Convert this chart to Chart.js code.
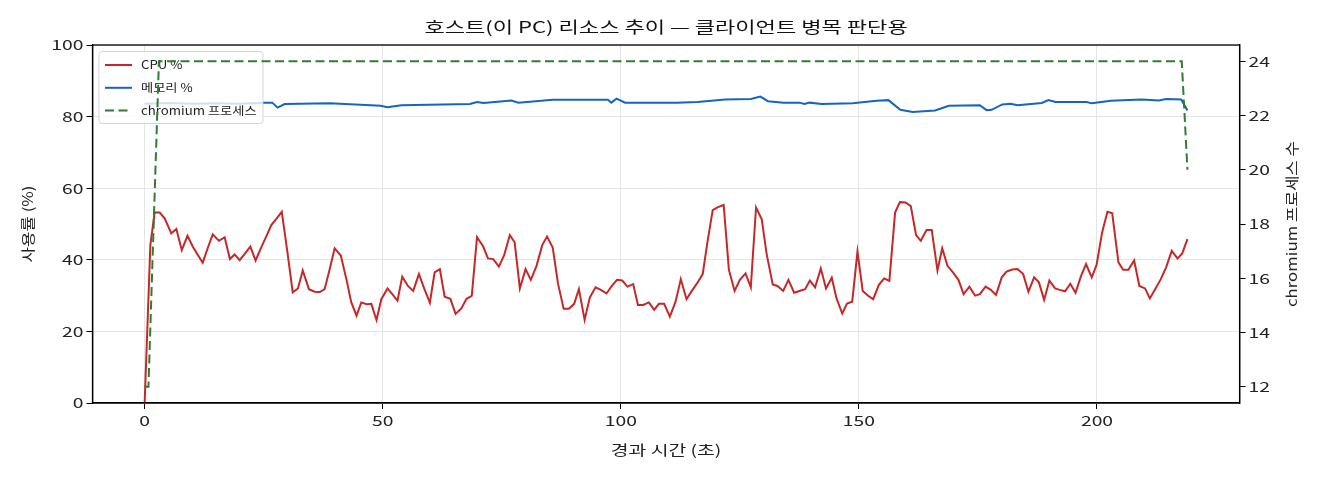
<!DOCTYPE html>
<html>
<head>
<meta charset="utf-8">
<script src="https://cdn.jsdelivr.net/npm/chart.js@4.4.1/dist/chart.umd.min.js"></script>
<style>
  html, body { margin: 0; padding: 0; background: #fff; }
  #wrap { width: 1320px; height: 480px; }
</style>
</head>
<body>
<div id="wrap"><canvas id="c" width="1320" height="480"></canvas></div>
<script>
// 시간축 눈금
const xTicks = [0, 50, 100, 150, 200];
const leftTicks = [0, 20, 40, 60, 80, 100];
const rightTicks = [12, 14, 16, 18, 20, 22, 24];

// CPU % (샘플 시각, 값)
const cpuT = [0, 1.2, 2.1, 3.15, 4.2, 5.6, 6.66, 7.8, 9.0, 10.1, 11.2, 12.2, 13.2, 14.3, 15.6, 16.8, 17.9, 18.9, 19.96, 21.1,
  22.2, 23.3, 24.4, 25.5, 26.6, 27.7, 28.8, 30.0, 31.1, 32.2, 33.2, 34.5, 35.7, 36.8, 37.8, 38.9, 39.9, 41.2, 42.4, 43.4,
  44.5, 45.5, 46.6, 47.6, 48.7, 49.7, 51.0, 52.0, 53.1, 54.1, 55.3, 56.4, 57.6, 58.7, 59.9, 60.9, 62.0, 63.0, 64.2, 65.3,
  66.5, 67.6, 68.7, 69.8, 71.1, 72.1, 73.2, 74.4, 75.5, 76.7, 77.7, 78.8, 80.0, 81.1, 82.3, 83.5, 84.5, 85.7, 86.8, 88.0,
  89.1, 90.2, 91.2, 92.4, 93.5, 94.7, 95.8, 97.0, 98.0, 99.2, 100.3, 101.4, 102.6, 103.6, 104.7, 105.9, 107.0, 108.0, 109.1, 110.3,
  111.5, 112.6, 113.8, 114.8, 116.0, 117.2, 118.2, 119.3, 120.4, 121.6, 122.7, 123.9, 125.0, 126.2, 127.3, 128.4, 129.6, 130.6, 131.9, 132.9,
  134.1, 135.2, 136.4, 137.5, 138.7, 139.7, 140.8, 142.0, 143.1, 144.3, 145.3, 146.5, 147.5, 148.6, 149.7, 150.8, 152.0, 153.0, 154.2, 155.3,
  156.4, 157.6, 158.6, 159.8, 160.9, 162.0, 163.0, 164.2, 165.3, 166.5, 167.5, 168.6, 169.8, 170.9, 172.0, 173.2, 174.4, 175.4, 176.6, 177.7,
  178.8, 180.0, 181.0, 182.2, 183.3, 184.5, 185.6, 186.8, 187.8, 188.9, 190.0, 191.2, 192.2, 193.3, 194.4, 195.5, 196.6, 197.7, 198.9, 199.9,
  201.1, 202.2, 203.2, 204.5, 205.5, 206.6, 207.8, 208.9, 210.1, 211.1, 212.3, 213.4, 214.5, 215.7, 216.9, 217.9, 219.0];
const cpuV = [0, 44.1, 53.2, 53.2, 51.6, 47.4, 48.6, 42.7, 46.7, 43.7, 41.3, 39.2, 43.1, 47.1, 45.3, 46.3, 40.2, 41.5, 39.9, 41.8,
  43.7, 39.8, 43.2, 46.4, 49.7, 51.5, 53.4, 42.0, 30.9, 32.0, 37.0, 31.8, 31.1, 31.0, 31.8, 37.6, 43.2, 41.2, 34.4, 28.1,
  24.4, 28.1, 27.6, 27.7, 23.2, 29.0, 32.0, 30.4, 28.6, 35.3, 32.7, 31.3, 36.0, 32.0, 28.0, 36.5, 37.4, 29.7, 29.1, 24.9,
  26.4, 29.1, 29.9, 46.3, 43.7, 40.4, 40.2, 38.1, 41.3, 46.9, 44.9, 32.0, 37.4, 34.4, 38.3, 44.1, 46.5, 43.4, 33.4, 26.3,
  26.3, 27.7, 31.8, 23.2, 29.5, 32.3, 31.6, 30.6, 32.5, 34.4, 34.2, 32.5, 33.2, 27.4, 27.4, 28.1, 26.0, 27.7, 27.7, 24.1,
  28.3, 34.6, 29.0, 31.1, 33.4, 36.0, 45.0, 53.9, 54.7, 55.3, 37.2, 31.3, 34.4, 36.2, 32.3, 54.6, 51.3, 41.8, 33.1, 32.7,
  31.3, 34.4, 30.8, 31.3, 31.8, 34.2, 32.3, 37.6, 32.0, 35.0, 29.2, 25.0, 27.8, 28.3, 42.3, 31.3, 29.9, 29.0, 33.0, 34.8,
  34.1, 53.2, 56.1, 56.0, 55.0, 46.9, 45.3, 48.3, 48.3, 37.0, 43.2, 38.3, 36.4, 34.4, 30.4, 32.5, 30.0, 30.4, 32.5, 31.6,
  30.2, 35.1, 36.7, 37.3, 37.4, 36.0, 31.1, 35.1, 33.7, 28.8, 34.2, 32.0, 31.6, 31.2, 33.3, 30.8, 35.3, 38.8, 35.1, 38.5,
  47.8, 53.4, 53.0, 39.3, 37.2, 37.2, 39.8, 32.7, 32.0, 29.2, 32.0, 34.6, 37.8, 42.5, 40.4, 41.8, 45.8];

// 메모리 %
const memT = [0, 5, 10, 15, 20, 25.0, 26.8, 27.9, 29.4, 38.9, 49.6, 51.0, 53.9, 68.3, 69.8, 71.2, 77.0, 78.5, 85.7, 97.3,
  98.0, 99.1, 100.9, 111.8, 116.1, 121.9, 127.3, 129.3, 130.9, 134.2, 137.5, 138.6, 139.6, 142.2, 148.7, 153.7, 156.2, 158.7, 161.3, 166.0,
  168.9, 175.4, 176.8, 177.9, 180.1, 181.9, 183.3, 188.4, 189.8, 191.3, 197.8, 198.9, 202.9, 209.4, 213.0, 214.5, 217.7, 219.0];
const memV = [83.6, 83.8, 83.6, 83.7, 83.6, 83.9, 83.9, 82.5, 83.5, 83.7, 83.0, 82.6, 83.2, 83.5, 84.1, 83.8, 84.5, 83.9, 84.7, 84.7,
  83.9, 85.0, 83.9, 83.9, 84.1, 84.8, 84.9, 85.6, 84.3, 83.9, 83.9, 83.5, 83.9, 83.5, 83.7, 84.4, 84.6, 81.9, 81.3, 81.7,
  83.0, 83.2, 81.8, 81.9, 83.4, 83.6, 83.2, 83.8, 84.6, 84.1, 84.1, 83.7, 84.4, 84.8, 84.5, 84.9, 84.8, 81.7];

// chromium 프로세스 수
const chrT = [0, 0.8, 3.0, 217.8, 219.0];
const chrV = [12, 12, 24, 24, 20];

function pts(t, v) { return t.map((x, i) => ({ x: x, y: v[i] })); }

// 원본 글꼴이 가로로 넓어서 글자만 가로로 늘려 그림
const TEXT_STRETCH = 1.38, ROT_STRETCH = 1.2;
const rawFill = CanvasRenderingContext2D.prototype.fillText;
CanvasRenderingContext2D.prototype.fillText = function (s, x, y) {
  const m = this.getTransform();
  const sx = this.textStretch || (Math.abs(m.b) > 1e-6 ? ROT_STRETCH : TEXT_STRETCH);
  this.save();
  this.translate(x, y);
  this.scale(sx, 1);
  rawFill.call(this, s, 0, 0);
  this.restore();
};

const FONT = "'Noto Sans CJK KR', 'Noto Sans', sans-serif";
Chart.defaults.font.family = FONT;
Chart.defaults.font.size = 14;
Chart.defaults.color = '#222';

const PLOT_L = 92.5, PLOT_R = 1239.6, PLOT_B = 403;

// 범례는 chromium 선 아래, CPU/메모리 선 위에 그림 (twinx 순서)
const legendBox = {
  id: 'legendBox',
  beforeDatasetDraw(chart, args) {
    if (args.index !== 2) return;
    const ctx = chart.ctx;
    const a = chart.chartArea;
    const x0 = a.left + 6.5, y0 = a.top + 6.5, w = 164, h = 72;
    ctx.save();
    ctx.fillStyle = 'rgba(255,255,255,0.8)';
    ctx.strokeStyle = 'rgba(204,204,204,0.8)';
    ctx.lineWidth = 1;
    ctx.beginPath();
    ctx.roundRect(x0, y0, w, h, 3);
    ctx.fill();
    ctx.stroke();
    ctx.font = '11.5px ' + FONT;
    ctx.textBaseline = 'middle';
    ctx.textStretch = 1.15;
    chart.data.datasets.forEach((ds, i) => {
      const y = y0 + 13.5 + i * 22.8;
      ctx.strokeStyle = ds.borderColor;
      ctx.lineWidth = 2;
      ctx.setLineDash(ds.borderDash || []);
      ctx.beginPath();
      ctx.moveTo(x0 + 6, y);
      ctx.lineTo(x0 + 33, y);
      ctx.stroke();
      ctx.setLineDash([]);
      ctx.fillStyle = '#222';
      ctx.fillText(ds.label, x0 + 42, y);
    });
    ctx.textStretch = 0;
    ctx.restore();
  },
  afterDatasetsDraw(chart) {
    const ctx = chart.ctx;
    const a = chart.chartArea;
    ctx.save();
    ctx.strokeStyle = '#000';
    ctx.lineWidth = 1.3;
    ctx.strokeRect(a.left, a.top, a.right - a.left, a.bottom - a.top);
    ctx.restore();
  },
  afterDraw(chart) {
    const ctx = chart.ctx;
    const a = chart.chartArea;
    ctx.save();
    ctx.translate(1292, (a.top + a.bottom) / 2);
    ctx.rotate(-Math.PI / 2);
    ctx.font = '14px ' + FONT;
    ctx.fillStyle = '#222';
    ctx.textAlign = 'center';
    ctx.textBaseline = 'middle';
    ctx.fillText('chromium 프로세스 수', 0, 0);
    ctx.restore();
  }
};

new Chart(document.getElementById('c'), {
  type: 'line',
  data: {
    datasets: [
      { label: 'CPU %', data: pts(cpuT, cpuV), borderColor: '#c62828', borderWidth: 2,
        pointRadius: 0, tension: 0, yAxisID: 'y', order: 2 },
      { label: '메모리 %', data: pts(memT, memV), borderColor: '#1565c0', borderWidth: 2,
        pointRadius: 0, tension: 0, yAxisID: 'y', order: 1 },
      { label: 'chromium 프로세스', data: pts(chrT, chrV), borderColor: '#2e7d32', borderWidth: 2,
        borderDash: [9, 4.5], pointRadius: 0, tension: 0, yAxisID: 'y2', order: 0 }
    ]
  },
  options: {
    responsive: false,
    animation: false,
    layout: { padding: { left: 0, right: 0, top: 0, bottom: 0 } },
    plugins: {
      legend: { display: false },
      tooltip: { enabled: false },
      title: {
        display: true,
        text: '호스트(이 PC) 리소스 추이 — 클라이언트 병목 판단용',
        font: { size: 16, weight: 'normal' },
        color: '#111',
        padding: { top: 17, bottom: 8.8 },
        fullSize: false
      }
    },
    scales: {
      x: {
        type: 'linear',
        min: -10.95, max: 229.95,
        afterBuildTicks: s => { s.ticks = xTicks.map(v => ({ value: v })); },
        afterFit: s => { s.height = 480 - PLOT_B; },
        ticks: { color: '#222', padding: 3, maxRotation: 0, autoSkip: false },
        grid: { color: '#e5e5e5', lineWidth: 1, tickColor: '#000', tickLength: 6 },
        border: { display: true, color: '#000', width: 1.3 },
        title: { display: true, text: '경과 시간 (초)', color: '#222', padding: { top: 0, bottom: 21.5 } }
      },
      y: {
        position: 'left',
        min: 0, max: 100,
        afterBuildTicks: s => { s.ticks = leftTicks.map(v => ({ value: v })); },
        afterFit: s => { s.width = PLOT_L; },
        ticks: { color: '#222', padding: 3, autoSkip: false },
        grid: { color: '#e5e5e5', lineWidth: 1, tickColor: '#000', tickLength: 6 },
        border: { display: true, color: '#000', width: 1.3 },
        title: { display: true, text: '사용률 (%)', color: '#222', padding: { top: 19.5, bottom: 0 } }
      },
      y2: {
        position: 'right',
        min: 11.4, max: 24.6,
        afterBuildTicks: s => { s.ticks = rightTicks.map(v => ({ value: v })); },
        afterFit: s => { s.width = 1320 - PLOT_R; },
        ticks: { color: '#222', padding: 3, autoSkip: false },
        grid: { drawOnChartArea: false, tickColor: '#000', tickLength: 6 },
        border: { display: true, color: '#000', width: 1.3 }
      }
    }
  },
  plugins: [legendBox]
});
</script>
</body>
</html>
